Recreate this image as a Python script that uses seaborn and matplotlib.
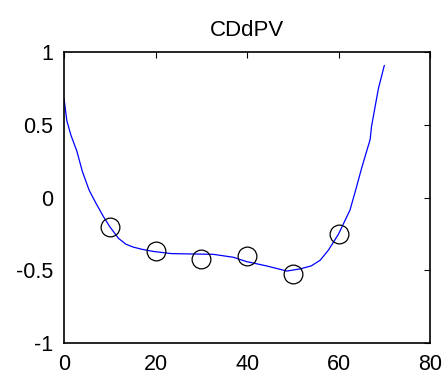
import matplotlib
matplotlib.use('Agg')
import matplotlib.pyplot as plt
import seaborn as sns
import pandas as pd
import numpy as np

# fitted curve
curve_x = [0, 0.6, 1.5, 2.8, 4.0, 5.5, 7.0, 8.6, 10.0, 11.9, 13.5, 15.1, 17.0, 19.5, 23.5,
           32.6, 37.0, 39.9, 44.3, 48.7, 51.6, 54.0, 56.0, 57.8, 60.0, 62.5, 63.8, 65.1,
           66.9, 67.2, 68.7, 70.0]
curve_y = [0.68, 0.53, 0.43, 0.32, 0.18, 0.05, -0.04, -0.13, -0.2, -0.28, -0.32, -0.34,
           -0.355, -0.37, -0.385, -0.39, -0.41, -0.44, -0.47, -0.505, -0.49, -0.47, -0.43,
           -0.36, -0.25, -0.085, 0.06, 0.21, 0.40, 0.49, 0.75, 0.91]

# measured points
pts_x = [10, 20, 30, 40, 50, 60]
pts_y = [-0.2, -0.37, -0.425, -0.40, -0.525, -0.25]

sns.set_style('white')
plt.rcParams['font.family'] = ['Liberation Sans', 'DejaVu Sans']

fig = plt.figure(figsize=(4.48, 3.77), dpi=100)
ax = fig.add_axes([0.143, 0.0902, 0.817, 0.771])

curve_df = pd.DataFrame({'x': curve_x, 'y': curve_y})
pts_df = pd.DataFrame({'x': pts_x, 'y': pts_y})

sns.lineplot(data=curve_df, x='x', y='y', sort=False, color='#0000ff', linewidth=0.9, ax=ax)
ax.plot(pts_df['x'], pts_df['y'], 'o', markersize=13.5, markerfacecolor='none',
        markeredgecolor='black', markeredgewidth=0.9)

ax.set_xlim(0, 80)
ax.set_ylim(-1, 1)
ax.set_xticks([0, 20, 40, 60, 80])
ax.set_yticks([-1, -0.5, 0, 0.5, 1])
ax.set_yticklabels(['-1', '-0.5', '0', '0.5', '1'])
ax.set_xlabel('')
ax.set_ylabel('')
ax.tick_params(direction='in', length=4, width=0.8, labelsize=15.5, top=True, right=True,
               pad=8, colors='black')
for s in ax.spines.values():
    s.set_color('black')
    s.set_linewidth(1.2)
ax.set_title('CDdPV', fontsize=16, pad=12, color='black')

fig.savefig('out.png', dpi=100)
